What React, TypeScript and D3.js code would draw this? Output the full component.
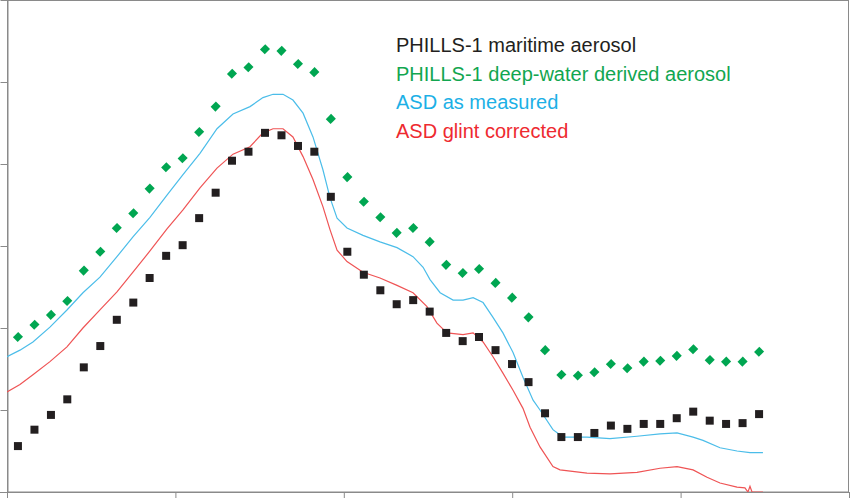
import React, { useEffect, useRef } from "react";
import * as d3 from "d3";

// band centres (nm) of the PHILLS-1 points
const phillsWl = [
  406.5, 416.3, 426.1, 435.8, 445.6, 455.4, 465.2, 475.0, 484.7, 494.5,
  504.3, 514.1, 523.9, 533.6, 543.4, 553.2, 563.0, 572.8, 582.5, 592.3,
  602.1, 611.9, 621.7, 631.4, 641.2, 651.0, 660.8, 670.6, 680.3, 690.1,
  699.9, 709.7, 719.5, 729.2, 739.0, 748.8, 758.6, 768.4, 778.1, 787.9,
  797.7, 807.5, 817.3, 827.0, 836.8, 846.6,
];

const maritime = [
  0.56, 0.76, 0.94, 1.13, 1.52, 1.78, 2.10, 2.31, 2.61, 2.88,
  3.01, 3.34, 3.65, 4.04, 4.15, 4.38, 4.35, 4.22, 4.15, 3.60,
  2.93, 2.65, 2.46, 2.29, 2.34, 2.20, 1.94, 1.84, 1.89, 1.73,
  1.56, 1.34, 0.96, 0.67, 0.67, 0.72, 0.81, 0.77, 0.83, 0.83,
  0.90, 0.98, 0.87, 0.83, 0.84, 0.95,
];

const deepWater = [
  1.89, 2.04, 2.16, 2.33, 2.70, 2.93, 3.22, 3.40, 3.70, 3.96,
  4.07, 4.39, 4.70, 5.10, 5.18, 5.40, 5.38, 5.22, 5.12, 4.55,
  3.84, 3.54, 3.35, 3.16, 3.22, 3.05, 2.77, 2.67, 2.72, 2.55,
  2.37, 2.13, 1.73, 1.43, 1.42, 1.46, 1.56, 1.51, 1.59, 1.60,
  1.66, 1.74, 1.61, 1.59, 1.59, 1.71,
];

const asdWl = [
  400, 407.7, 415.4, 425.5, 435.6, 445.1, 455.2, 465.3, 474.8, 484.9,
  495.0, 504.5, 514.6, 524.7, 534.2, 544.3, 552.0, 558.0, 563.9, 569.8,
  575.8, 581.7, 587.6, 591.8, 596.0, 601.9, 611.4, 621.5, 631.6, 641.1,
  647.1, 651.2, 657.2, 664.9, 670.8, 676.8, 682.7, 688.6, 694.5, 700.5,
  706.4, 712.4, 716.5, 724.2, 730.2, 744.4, 758.1, 774.1, 787.8, 797.9,
  807.4, 813.3, 823.4, 833.5, 841.2, 848.9,
];

const asdMeasured = [
  1.65, 1.73, 1.83, 2.01, 2.22, 2.43, 2.62, 2.87, 3.11, 3.35,
  3.62, 3.87, 4.13, 4.43, 4.61, 4.70, 4.81, 4.85, 4.85, 4.78,
  4.62, 4.33, 3.93, 3.59, 3.34, 3.22, 3.13, 3.05, 2.98, 2.87,
  2.74, 2.59, 2.43, 2.34, 2.34, 2.37, 2.31, 2.13, 1.94, 1.70,
  1.40, 1.12, 1.00, 0.76, 0.67, 0.67, 0.65, 0.68, 0.71, 0.72,
  0.67, 0.63, 0.54, 0.50, 0.48, 0.48,
];

const glintWl = [
  400, 407.7, 415.4, 425.5, 435.6, 445.1, 455.2, 465.3, 474.8, 484.9,
  495.0, 504.5, 514.6, 524.7, 534.2, 544.3, 552.0, 558.0, 563.9, 569.8,
  575.8, 581.7, 587.6, 591.8, 596.0, 601.9, 611.4, 621.5, 631.6, 641.1,
  649.4, 655.3, 661.3, 670.8, 676.8, 682.7, 688.6, 694.5, 700.5, 706.4,
  710.6, 716.5, 724.2, 728.4, 744.4, 758.1, 774.1, 787.8, 797.9, 807.4,
  815.7, 823.4, 833.5, 838.2, 840.0, 841.2, 842.4, 848.9,
];

const glintCorrected = [
  1.22, 1.31, 1.43, 1.59, 1.77, 2.00, 2.22, 2.44, 2.68, 2.94,
  3.21, 3.44, 3.71, 3.95, 4.12, 4.21, 4.38, 4.43, 4.43, 4.33,
  4.09, 3.81, 3.48, 3.20, 2.95, 2.81, 2.68, 2.61, 2.52, 2.43,
  2.26, 2.06, 1.94, 1.92, 1.94, 1.83, 1.65, 1.45, 1.24, 1.02,
  0.79, 0.55, 0.31, 0.27, 0.23, 0.22, 0.24, 0.29, 0.31, 0.27,
  0.18, 0.11, 0.06, 0.05, 0.00, 0.07, 0.00, 0.00,
];

const legendLabels = [
  "PHILLS-1 maritime aerosol",
  "PHILLS-1 deep-water derived aerosol",
  "ASD as measured",
  "ASD glint corrected",
];
const legendColors = ["#231f20", "#12a650", "#1cb0e6", "#ee2a30"];

export default function App() {
  const svgRef = useRef(null);

  useEffect(() => {
    const width = 850;
    const height = 498;
    const x = d3.scaleLinear().domain([400, 900]).range([7, 849]);
    const y = d3.scaleLinear().domain([0, 6]).range([492, 0]);

    const svg = d3.select(svgRef.current);
    svg.selectAll("*").remove();
    svg.attr("width", width).attr("height", height);

    svg.append("defs").append("clipPath").attr("id", "plot")
      .append("rect").attr("x", 7).attr("y", 0).attr("width", 842).attr("height", 492);

    // frame
    svg.append("rect")
      .attr("x", 7.5).attr("y", 0.5).attr("width", 841).attr("height", 491.5)
      .attr("fill", "none").attr("stroke", "#8a8a8a").attr("stroke-width", 1);

    const yAxis = svg.append("g")
      .attr("transform", "translate(7.5,0)")
      .call(d3.axisLeft(y).ticks(6).tickSize(7).tickSizeOuter(0).tickFormat(() => ""));
    yAxis.select(".domain").attr("stroke", "#8a8a8a");
    yAxis.selectAll("line").attr("stroke", "#8a8a8a");

    const xAxis = svg.append("g")
      .attr("transform", "translate(0,492)")
      .call(d3.axisBottom(x).ticks(5).tickSize(6).tickSizeOuter(0).tickFormat(() => ""));
    xAxis.select(".domain").attr("stroke", "#8a8a8a");
    xAxis.selectAll("line").attr("stroke", "#8a8a8a");
    svg.append("line").attr("x1", 0).attr("x2", 8).attr("y1", 492.5).attr("y2", 492.5)
      .attr("stroke", "#8a8a8a");

    const plot = svg.append("g").attr("clip-path", "url(#plot)");

    const line = d3.line<[number, number]>().x((d) => x(d[0])).y((d) => y(d[1]));

    plot.append("path")
      .datum(asdWl.map((w, i) => [w, asdMeasured[i]] as [number, number]))
      .attr("d", line)
      .attr("fill", "none").attr("stroke", "#4bbde9").attr("stroke-width", 1.2);

    plot.append("path")
      .datum(glintWl.map((w, i) => [w, glintCorrected[i]] as [number, number]))
      .attr("d", line)
      .attr("fill", "none").attr("stroke", "#ef5455").attr("stroke-width", 1.2);

    const square = d3.symbol().type(d3.symbolSquare).size(64);
    plot.selectAll(".sq")
      .data(phillsWl.map((w, i) => [w, maritime[i]]))
      .enter().append("path")
      .attr("class", "sq")
      .attr("d", square)
      .attr("transform", (d) => `translate(${x(d[0])},${y(d[1])})`)
      .attr("fill", "#231f20");

    // rotated square reads closer to the original's fat diamonds than symbolDiamond
    const diamond = d3.symbol().type(d3.symbolSquare).size(46);
    plot.selectAll(".dm")
      .data(phillsWl.map((w, i) => [w, deepWater[i]]))
      .enter().append("path")
      .attr("class", "dm")
      .attr("d", diamond)
      .attr("transform", (d) => `translate(${x(d[0])},${y(d[1])}) rotate(45) scale(1,1.1)`)
      .attr("fill", "#00a651");

    svg.append("g").selectAll("text")
      .data(legendLabels)
      .enter().append("text")
      .attr("x", 396)
      .attr("y", (d, i) => 52 + i * 28.5)
      .attr("fill", (d, i) => legendColors[i])
      .style("font-family", "'Liberation Sans', Arial, sans-serif")
      .style("font-size", "20px")
      .text((d) => d);
  }, []);

  return (
    <div style={{ position: "absolute", left: 0, top: 0 }}>
      <svg ref={svgRef} style={{ display: "block" }} />
    </div>
  );
}
